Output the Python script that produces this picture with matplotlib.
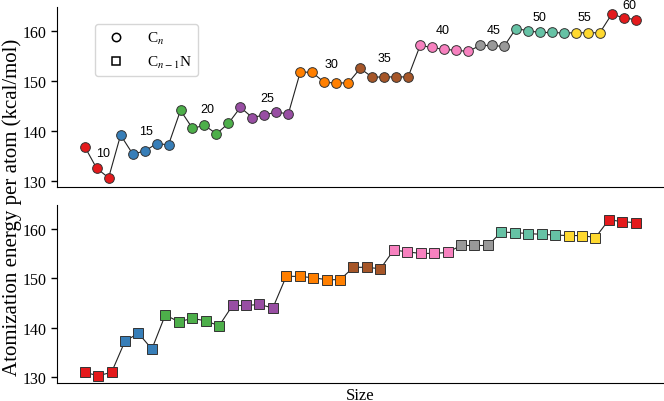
import numpy as np
import matplotlib
matplotlib.use("Agg")
import matplotlib.pyplot as plt
from matplotlib.lines import Line2D

plt.rcParams['font.family'] = ['Liberation Serif', 'DejaVu Serif']
plt.rcParams['mathtext.fontset'] = 'stix'
plt.rcParams['font.size'] = 11.5

# colours of the size groups (same order in both panels)
group_colors = ['#e41a1c', '#377eb8', '#4daf4a', '#984ea3', '#ff7f00', '#a65628',
                '#f781bf', '#999999', '#66c2a5', '#ffd92f', '#e41a1c']

# C_n clusters
cn_counts = [3, 5, 5, 5, 5, 5, 5, 3, 5, 3, 3]
cn_energy = [136.85, 132.5, 130.6,
             139.15, 135.4, 135.9, 137.45, 137.2,
             144.1, 140.5, 141.1, 139.4, 141.5,
             144.7, 142.65, 143.2, 143.75, 143.4,
             151.8, 151.7, 149.7, 149.6, 149.6,
             152.5, 150.75, 150.8, 150.8, 150.8,
             157.1, 156.7, 156.3, 156.15, 155.9,
             157.1, 157.1, 156.9,
             160.5, 160.05, 159.7, 159.7, 159.6,
             159.65, 159.65, 159.65,
             163.4, 162.6, 162.3]

# C_{n-1}N clusters
cnn_counts = [3, 3, 5, 4, 5, 3, 5, 3, 5, 3, 3]
cnn_energy = [131.0, 130.35, 131.0,
              137.3, 138.9, 135.7,
              142.6, 141.2, 141.9, 141.4, 140.4,
              144.5, 144.5, 144.7, 144.0,
              150.4, 150.35, 150.1, 149.7, 149.7,
              152.2, 152.2, 151.9,
              155.7, 155.3, 155.0, 155.0, 155.2,
              156.6, 156.6, 156.6,
              159.3, 159.2, 159.0, 158.85, 158.7,
              158.6, 158.6, 158.2,
              161.8, 161.4, 161.2]

# size labels in the top panel (point index, energy)
size_labels = ['10', '15', '20', '25', '30', '35', '40', '45', '50', '55', '60']
label_idx = [1.5, 5.15, 10.2, 15.25, 20.6, 25.05, 29.9, 34.1, 37.95, 41.7, 45.45]
label_energy = [135.5, 139.9, 144.4, 146.6, 153.4, 154.6, 160.2, 160.3, 162.9, 162.9, 165.3]


def draw_panel(ax, counts, energy, marker, ms):
    x = np.arange(len(energy))
    cols = []
    for c, n in zip(group_colors, counts):
        cols += [c] * n
    ax.plot(x, energy, color='#222222', lw=0.8, zorder=1)
    for xi, yi, c in zip(x, energy, cols):
        ax.plot(xi, yi, marker=marker, ms=ms, mfc=c, mec='#333333', mew=0.7,
                ls='none', zorder=2)
    ax.set_ylim(128.8, 164.8)
    ax.set_yticks([130, 140, 150, 160])
    ax.set_xticks([])
    ax.spines['top'].set_visible(False)
    ax.spines['right'].set_visible(False)
    ax.tick_params(axis='y', direction='out', length=4, width=1)


fig = plt.figure(figsize=(6.64, 4.02), dpi=100)
ax1 = fig.add_axes([0.086, 0.533, 0.913, 0.447])
ax2 = fig.add_axes([0.086, 0.044, 0.913, 0.444])

draw_panel(ax1, cn_counts, cn_energy, 'o', 7)
draw_panel(ax2, cnn_counts, cnn_energy, 's', 6.5)

for s, xi, yi in zip(size_labels, label_idx, label_energy):
    ax1.text(xi, yi, s, ha='center', va='center', fontsize=9,
             family='Liberation Sans', clip_on=False)

handles = [Line2D([], [], marker='o', ls='none', mfc='white', mec='black', ms=6, mew=1.1),
           Line2D([], [], marker='s', ls='none', mfc='white', mec='black', ms=6, mew=1.1)]
ax1.legend(handles, ['C$_n$', 'C$_{n-1}$N'], loc='upper left',
           bbox_to_anchor=(0.062, 0.905), borderaxespad=0, handletextpad=1.0,
           fontsize=11, edgecolor='#cccccc')

ax2.set_xlabel('Size', fontsize=12, labelpad=3)
fig.text(0.018, 0.485, 'Atomization energy per atom (kcal/mol)', rotation=90,
         ha='center', va='center', fontsize=15)

fig.savefig('out.png', dpi=100)
